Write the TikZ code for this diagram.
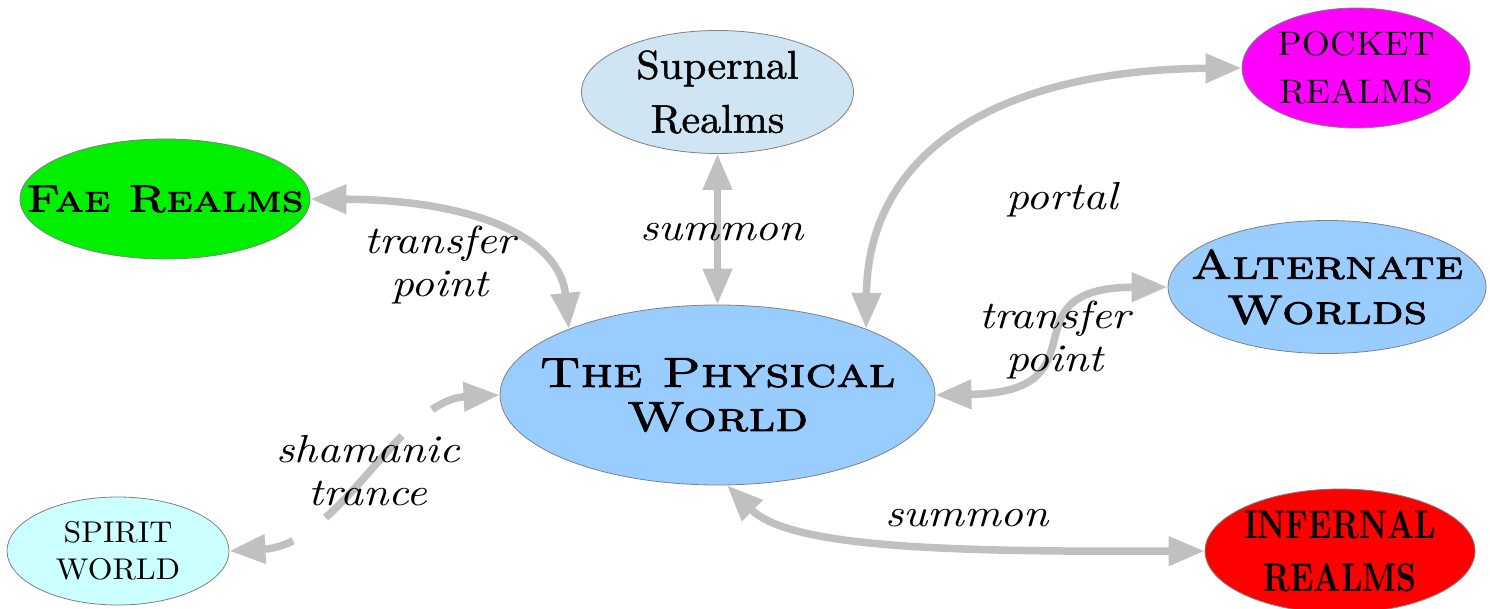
\documentclass[tikz,border=0pt]{standalone}
\usepackage{fontspec}
\usetikzlibrary{shapes.geometric,arrows.meta}

% faces for the realm names and the link captions
\newfontfamily\uncial{lmromancaps10-regular.otf}[FakeBold=2,FakeStretch=1.25]
\newfontfamily\gothicish{lmroman10-regular.otf}[FakeBold=1.2,FakeStretch=1.05]
\newfontfamily\plainserif{lmroman10-regular.otf}[FakeStretch=1.06]
\newfontfamily\condensedbold{lmroman10-bold.otf}[FakeStretch=0.78]
\newfontfamily\scriptlabel{lmroman10-italic.otf}[FakeStretch=1.15]

\definecolor{linkgray}{RGB}{192,192,192}
\definecolor{rimgray}{RGB}{128,128,128}
\definecolor{worldblue}{RGB}{153,204,255}
\definecolor{supernalblue}{RGB}{207,229,243}
\definecolor{faegreen}{RGB}{0,240,0}
\definecolor{pocketmagenta}{RGB}{255,0,255}
\definecolor{infernalred}{RGB}{255,0,0}
\definecolor{spiritcyan}{RGB}{204,255,255}

\begin{document}
\begin{tikzpicture}[x=1pt,y=-1pt,
  realm/.style={ellipse,draw=rimgray,line width=0.8pt,inner sep=0pt},
  realmtext/.style={align=center,text=black},
  link/.style={draw=linkgray,line width=7.5pt,{Triangle[length=36pt,width=28pt]}-{Triangle[length=36pt,width=28pt]}},
  tag/.style={align=center,font=\fontsize{39}{43}\selectfont\scriptlabel}]
\useasboundingbox (0,0) rectangle (1490,609);

% realms
\node[realm,fill=worldblue,minimum width=435,minimum height=180,
  label={[realmtext,font=\fontsize{42}{44}\selectfont\uncial]center:The Physical\\World}]
  (phys) at (717.5,395) {};
\node[realm,fill=supernalblue,minimum width=272,minimum height=123,
  label={[realmtext,font=\fontsize{40}{54}\selectfont\gothicish]center:Supernal\\Realms}]
  (sup) at (717.5,92) {};
\node[realm,fill=faegreen,minimum width=290,minimum height=120,
  label={[realmtext,font=\fontsize{38}{44}\selectfont\uncial]center:Fae Realms}]
  (fae) at (165,199) {};
\node[realm,fill=pocketmagenta,minimum width=228,minimum height=120,
  label={[realmtext,font=\fontsize{34}{48}\selectfont\plainserif]center:POCKET\\REALMS}]
  (pocket) at (1356,68) {};
\node[realm,fill=worldblue,minimum width=318,minimum height=133,
  label={[realmtext,font=\fontsize{41}{45}\selectfont\uncial]center:Alternate\\Worlds}]
  (alt) at (1327,287) {};
\node[realm,fill=infernalred,minimum width=270,minimum height=124,
  label={[realmtext,font=\fontsize{40}{53}\selectfont\condensedbold]center:INFERNAL\\REALMS}]
  (inf) at (1340,551) {};
\node[realm,fill=spiritcyan,minimum width=222,minimum height=108,
  label={[realmtext,font=\fontsize{30}{37}\selectfont\plainserif]center:SPIRIT\\WORLD}]
  (spirit) at (118,551) {};

% connections
\draw[link] (fae.east) .. controls (480,200) and (560,240) .. (phys.156);
\draw[link] (sup.south) -- (phys.north);
\draw[link] (pocket.west) .. controls (1000,70) and (868,150) .. (phys.24);
\draw[link] (alt.west) .. controls (1000,288) and (1110,392) .. (phys.east);
\draw[link] (inf.west) .. controls (950,552) and (790,548) .. (phys.-84);
\draw[link,dash pattern=on 112pt off 40pt,dash phase=81pt]
  (spirit.east) .. controls (340,545) and (400,400) .. (phys.west);

% connection captions
\node[tag] (t1) at (440,265) {transfer\\point};
\node[tag] (t2) at (722,232) {summon};
\node[tag] (t3) at (1062,200) {portal};
\node[tag] (t4) at (1055,340) {transfer\\point};
\node[tag] (t5) at (368,471) {shamanic\\trance};
\node[tag] (t6) at (967,518) {summon};
\end{tikzpicture}
\end{document}
